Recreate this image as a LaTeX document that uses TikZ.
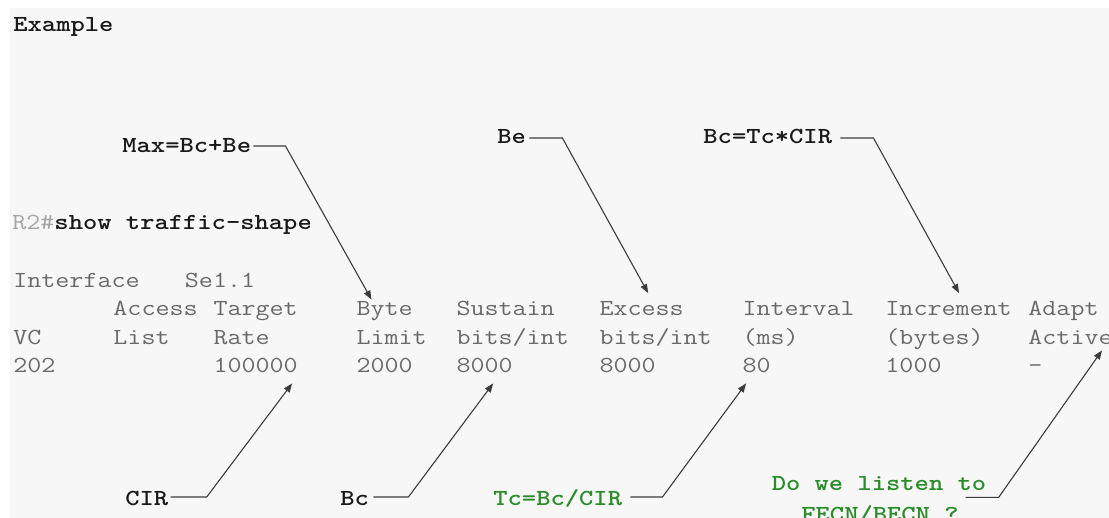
\documentclass[tikz,border=0pt]{standalone}
\usepackage{graphicx}
\usetikzlibrary{arrows.meta,calc}
\definecolor{bg}{RGB}{247,247,247}
\definecolor{tbl}{RGB}{105,105,105}
\definecolor{prm}{RGB}{165,165,165}
\definecolor{grn}{RGB}{40,140,40}
\definecolor{ink}{RGB}{25,25,25}
\definecolor{wire}{RGB}{60,60,60}
\newcommand\sx[1]{\scalebox{1.184}[1]{#1}}
\begin{document}
\begin{tikzpicture}[x=0.5pt,y=-0.5pt,
  txt/.style={inner sep=0pt, text height=7pt, text depth=0pt,
    font=\ttfamily\fontsize{11.5pt}{14pt}\selectfont},
  cell/.style={txt, anchor=base west, text=tbl},
  lbl/.style={txt, anchor=base west, text=ink,
    font=\ttfamily\bfseries\fontsize{11.5pt}{14pt}\selectfont},
  glbl/.style={lbl, text=grn},
  arr/.style={draw=wire, line width=0.55pt, -{Triangle[length=4.5pt,width=3.4pt]}}]
\useasboundingbox (0,0) rectangle (1109,518);
\fill[white] (0,0) rectangle (1109,518);
\fill[bg] (10,8) rectangle (1109,518);

% titles
\node[lbl] (ex) at (13,32) {\sx{Example}};
\node[lbl] (cmd) at (12,230) {\sx{{\mdseries\color{prm}R2\#}show traffic-shape}};

% upper labels
\node[lbl] (max) at (122,153) {\sx{Max=Bc+Be}};
\node[lbl] (be) at (497,144) {\sx{Be}};
\node[lbl] (bct) at (703,144) {\sx{Bc=Tc*CIR}};

% table
\node[cell] (iface) at (13,288) {\sx{Interface}};
\node[cell] (se) at (184.55,288) {\sx{Se1.1}};

\node[cell] (access) at (113.07,316) {\sx{Access}};
\node[cell] (target) at (213.14,316) {\sx{Target}};
\node[cell] (byte) at (356.10,316) {\sx{Byte}};
\node[cell] (sustain) at (456.18,316) {\sx{Sustain}};
\node[cell] (excess) at (599.14,316) {\sx{Excess}};
\node[cell] (interval) at (742.10,316) {\sx{Interval}};
\node[cell] (increment) at (885.06,316) {\sx{Increment}};
\node[cell] (adapt) at (1028.02,316) {\sx{Adapt}};

\node[cell] (vc) at (13,344) {\sx{VC}};
\node[cell] (list) at (113.07,344) {\sx{List}};
\node[cell] (rate) at (213.14,344) {\sx{Rate}};
\node[cell] (limit) at (356.10,344) {\sx{Limit}};
\node[cell] (bitsa) at (456.18,344) {\sx{bits/int}};
\node[cell] (bitsb) at (599.14,344) {\sx{bits/int}};
\node[cell] (ms) at (742.10,344) {\sx{(ms)}};
\node[cell] (bytes) at (885.06,344) {\sx{(bytes)}};
\node[cell] (active) at (1028.02,344) {\sx{Active}};

\node[cell] (vcn) at (13,372) {\sx{202}};
\node[cell] (cirv) at (213.14,372) {\sx{100000}};
\node[cell] (limv) at (356.10,372) {\sx{2000}};
\node[cell] (susv) at (456.18,372) {\sx{8000}};
\node[cell] (excv) at (599.14,372) {\sx{8000}};
\node[cell] (intv) at (742.10,372) {\sx{80}};
\node[cell] (incv) at (885.06,372) {\sx{1000}};
\node[cell] (actv) at (1028.02,372) {\sx{-}};

% lower labels
\node[lbl] (cir) at (125,505) {\sx{CIR}};
\node[lbl] (bc) at (340,505) {\sx{Bc}};
\node[glbl] (tc) at (493,505) {\sx{Tc=Bc/CIR}};
\node[glbl, anchor=base] (listen1) at (879,490) {\sx{Do we listen to}};
\node[glbl, anchor=base] (listen2) at (880,521) {\sx{FECN/BECN ?}};
\path (listen1.south east) ++(-21,7) coordinate (lsn);

% connectors, top
\draw[arr] ($(max.east)+(2,0)$) -- ++(32,0) -- ($(byte.north west)+(15.4,-2)$);
\draw[arr] ($(be.east)+(3,1)$) -- ++(33,0) -- ($(excess.north west)+(49,-8.5)$);
\draw[arr] ($(bct.east)+(8,1)$) -- ++(33,0) -- ($(increment.north west)+(74,-8.5)$);

% connectors, bottom
\draw[arr] ($(cir.east)+(2,-1)$) -- ++(36,0) -- ($(cirv.south west)+(79,11)$);
\draw[arr] ($(bc.east)+(4,-1)$) -- ++(35,0) -- ($(susv.south west)+(37,11)$);
\draw[arr] ($(tc.east)+(8,-1)$) -- ++(32,0) -- ($(intv.south west)+(4,11)$);
\draw[arr] (lsn) -- ++(33,0) -- ($(active.south west)+(74,6)$);
\end{tikzpicture}
\end{document}
